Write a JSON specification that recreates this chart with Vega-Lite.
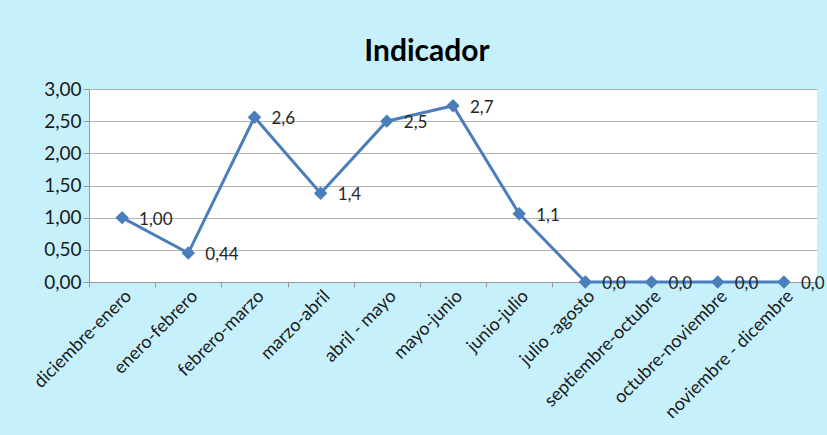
{
  "$schema": "https://vega.github.io/schema/vega-lite/v6.json",
  "width": 728,
  "height": 193,
  "autosize": {"type": "none"},
  "padding": {"left": 89, "top": 89, "right": 10, "bottom": 153},
  "background": "#c6f0fc",
  "title": {"text": "Indicador", "font": "Lato", "fontSize": 30, "fontWeight": "bold", "color": "#000000", "anchor": "middle", "baseline": "alphabetic", "offset": 29, "dy": 40, "dx": -26},
  "config": {
    "view": {"fill": "#ffffff", "stroke": null},
    "font": "Lato"
  },
  "data": {"values": [
    {"periodo": "diciembre-enero", "valor": 1.00, "etiqueta": "1,00"},
    {"periodo": "enero-febrero", "valor": 0.45, "etiqueta": "0,44"},
    {"periodo": "febrero-marzo", "valor": 2.56, "etiqueta": "2,6"},
    {"periodo": "marzo-abril", "valor": 1.38, "etiqueta": "1,4"},
    {"periodo": "abril - mayo", "valor": 2.50, "etiqueta": "2,5"},
    {"periodo": "mayo-junio", "valor": 2.74, "etiqueta": "2,7"},
    {"periodo": "junio-julio", "valor": 1.06, "etiqueta": "1,1"},
    {"periodo": "julio -agosto", "valor": 0, "etiqueta": "0,0"},
    {"periodo": "septiembre-octubre", "valor": 0, "etiqueta": "0,0"},
    {"periodo": "octubre-noviembre", "valor": 0, "etiqueta": "0,0"},
    {"periodo": "noviembre - dicembre", "valor": 0, "etiqueta": "0,0"}
  ]},
  "encoding": {
    "x": {"field": "periodo", "type": "nominal", "sort": null,
      "scale": {"paddingInner": 0, "paddingOuter": 0},
      "axis": {"title": null, "labelAngle": -45, "labelFontSize": 18, "labelColor": "#1a1a1a", "labelPadding": 0, "tickBand": "extent", "tickColor": "#999999", "tickSize": 5, "domainColor": "#999999", "grid": false, "labelLimit": 250}},
    "y": {"field": "valor", "type": "quantitative",
      "scale": {"domain": [0, 3], "nice": false},
      "axis": {"title": null, "values": [0, 0.5, 1, 1.5, 2, 2.5, 3], "labelExpr": "replace(format(datum.value, '.2f'), '.', ',')", "labelFontSize": 19, "labelColor": "#1a1a1a", "tickColor": "#999999", "tickSize": 6, "labelPadding": 2, "domainColor": "#999999", "gridColor": "#b3b3b3", "gridWidth": 1.2}}
  },
  "layer": [
    {"mark": {"type": "line", "color": "#4a7ebb", "strokeWidth": 3}},
    {"mark": {"type": "point", "shape": "diamond", "filled": true, "color": "#4a7ebb", "size": 180, "opacity": 1}},
    {"mark": {"type": "text", "align": "left", "baseline": "middle", "dx": 17, "dy": 2, "fontSize": 17, "color": "#262626"}, "encoding": {"text": {"field": "etiqueta"}}}
  ]
}
